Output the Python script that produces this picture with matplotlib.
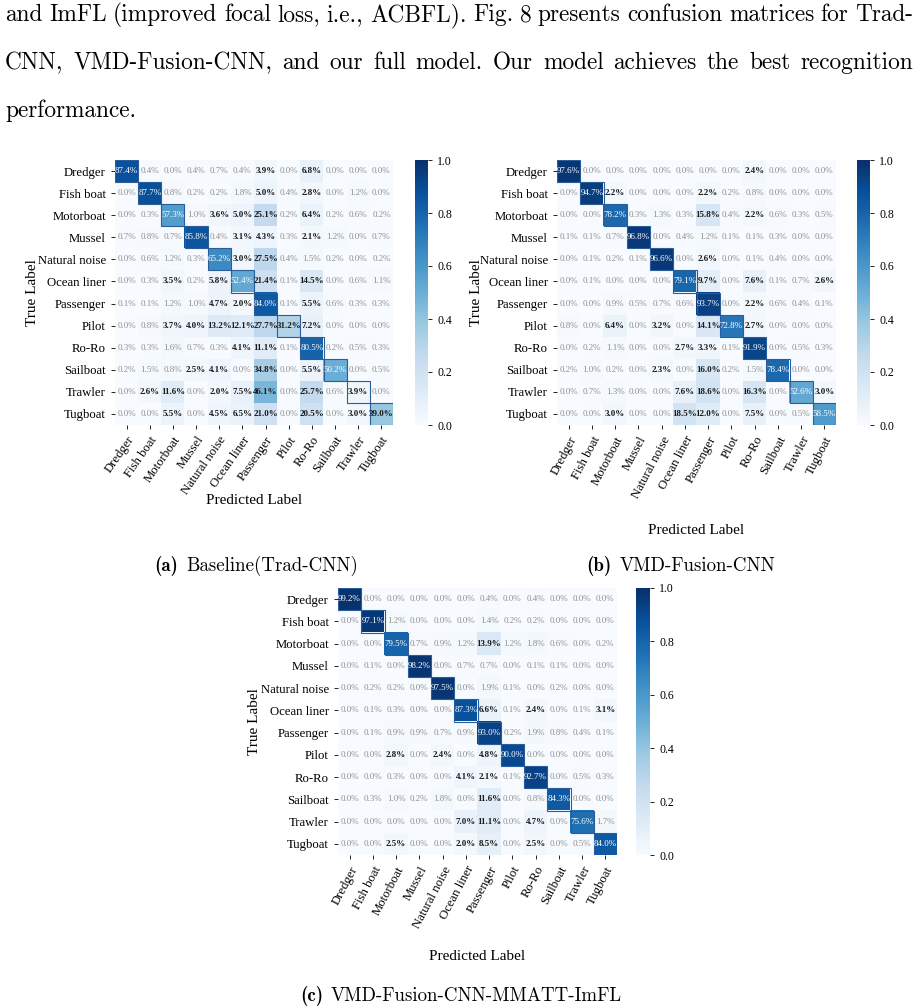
import numpy as np
import matplotlib.pyplot as plt
from matplotlib.patches import Rectangle

plt.rcParams['font.family'] = ['Liberation Serif', 'DejaVu Serif']
plt.rcParams['axes.unicode_minus'] = False

# class names (rows = true, columns = predicted)
classes = ['Dredger', 'Fish boat', 'Motorboat', 'Mussel', 'Natural noise', 'Ocean liner',
           'Passenger', 'Pilot', 'Ro-Ro', 'Sailboat', 'Trawler', 'Tugboat']

# (a) Baseline (Trad-CNN), percent
cm_trad = np.array([
    [87.4, 0.4, 0.0, 0.4, 0.7, 0.4, 3.9, 0.0, 6.8, 0.0, 0.0, 0.0],
    [0.0, 87.7, 0.8, 0.2, 0.2, 1.8, 5.0, 0.4, 2.8, 0.0, 1.2, 0.0],
    [0.0, 0.3, 57.3, 1.0, 3.6, 5.0, 25.1, 0.2, 6.4, 0.2, 0.6, 0.2],
    [0.7, 0.8, 0.7, 85.8, 0.4, 3.1, 4.3, 0.3, 2.1, 1.2, 0.0, 0.7],
    [0.0, 0.6, 1.2, 0.3, 65.2, 3.0, 27.5, 0.4, 1.5, 0.2, 0.0, 0.2],
    [0.0, 0.3, 3.5, 0.2, 5.8, 52.4, 21.4, 0.1, 14.5, 0.0, 0.6, 1.1],
    [0.1, 0.1, 1.2, 1.0, 4.7, 2.0, 84.0, 0.1, 5.5, 0.6, 0.3, 0.3],
    [0.0, 0.8, 3.7, 4.0, 13.2, 12.1, 27.7, 31.2, 7.2, 0.0, 0.0, 0.0],
    [0.3, 0.3, 1.6, 0.7, 0.3, 4.1, 11.1, 0.1, 80.5, 0.2, 0.5, 0.3],
    [0.2, 1.5, 0.8, 2.5, 4.1, 0.0, 34.8, 0.0, 5.5, 50.2, 0.0, 0.5],
    [0.0, 2.6, 11.6, 0.0, 2.0, 7.5, 46.1, 0.0, 25.7, 0.6, 3.9, 0.0],
    [0.0, 0.0, 5.5, 0.0, 4.5, 6.5, 21.0, 0.0, 20.5, 0.0, 3.0, 39.0],
])

# (b) VMD-Fusion-CNN
cm_vmd = np.array([
    [97.6, 0.0, 0.0, 0.0, 0.0, 0.0, 0.0, 0.0, 2.4, 0.0, 0.0, 0.0],
    [0.0, 94.7, 2.2, 0.0, 0.0, 0.0, 2.2, 0.2, 0.8, 0.0, 0.0, 0.0],
    [0.0, 0.0, 78.2, 0.3, 1.3, 0.3, 15.8, 0.4, 2.2, 0.6, 0.3, 0.5],
    [0.1, 0.1, 0.7, 96.8, 0.0, 0.4, 1.2, 0.1, 0.1, 0.3, 0.0, 0.0],
    [0.0, 0.1, 0.2, 0.1, 96.6, 0.0, 2.6, 0.0, 0.1, 0.4, 0.0, 0.0],
    [0.0, 0.1, 0.0, 0.0, 0.0, 79.1, 9.7, 0.0, 7.6, 0.1, 0.7, 2.6],
    [0.0, 0.0, 0.9, 0.5, 0.7, 0.6, 93.7, 0.0, 2.2, 0.6, 0.4, 0.1],
    [0.8, 0.0, 6.4, 0.0, 3.2, 0.0, 14.1, 72.8, 2.7, 0.0, 0.0, 0.0],
    [0.0, 0.2, 1.1, 0.0, 0.0, 2.7, 3.3, 0.1, 91.9, 0.0, 0.5, 0.3],
    [0.2, 1.0, 0.2, 0.0, 2.3, 0.0, 16.0, 0.2, 1.5, 78.4, 0.0, 0.0],
    [0.0, 0.7, 1.3, 0.0, 0.0, 7.6, 18.6, 0.0, 16.3, 0.0, 52.6, 3.0],
    [0.0, 0.0, 3.0, 0.0, 0.0, 18.5, 12.0, 0.0, 7.5, 0.0, 0.5, 58.5],
])

# (c) VMD-Fusion-CNN-MMATT-ImFL
cm_full = np.array([
    [99.2, 0.0, 0.0, 0.0, 0.0, 0.0, 0.4, 0.0, 0.4, 0.0, 0.0, 0.0],
    [0.0, 97.1, 1.2, 0.0, 0.0, 0.0, 1.4, 0.2, 0.2, 0.0, 0.0, 0.0],
    [0.0, 0.0, 79.5, 0.7, 0.9, 1.2, 13.9, 1.2, 1.8, 0.6, 0.0, 0.2],
    [0.0, 0.1, 0.0, 98.2, 0.0, 0.7, 0.7, 0.0, 0.1, 0.1, 0.0, 0.0],
    [0.0, 0.2, 0.2, 0.0, 97.5, 0.0, 1.9, 0.1, 0.0, 0.2, 0.0, 0.0],
    [0.0, 0.1, 0.3, 0.0, 0.0, 87.3, 6.6, 0.1, 2.4, 0.0, 0.1, 3.1],
    [0.0, 0.1, 0.9, 0.9, 0.7, 0.9, 93.0, 0.2, 1.9, 0.8, 0.4, 0.1],
    [0.0, 0.0, 2.8, 0.0, 2.4, 0.0, 4.8, 90.0, 0.0, 0.0, 0.0, 0.0],
    [0.0, 0.0, 0.3, 0.0, 0.0, 4.1, 2.1, 0.1, 92.7, 0.0, 0.5, 0.3],
    [0.0, 0.3, 1.0, 0.2, 1.8, 0.0, 11.6, 0.0, 0.8, 84.3, 0.0, 0.0],
    [0.0, 0.0, 0.0, 0.0, 0.0, 7.0, 11.1, 0.0, 4.7, 0.0, 75.6, 1.7],
    [0.0, 0.0, 2.5, 0.0, 0.0, 2.0, 8.5, 0.0, 2.5, 0.0, 0.5, 84.0],
])

body_lines = [
    'and ImFL (improved focal loss, i.e., ACBFL). Fig. 8 presents confusion matrices for Trad-',
    'CNN, VMD-Fusion-CNN, and our full model. Our model achieves the best recognition',
    'performance.',
]
captions = [('(a)', 'Baseline(Trad-CNN)'), ('(b)', 'VMD-Fusion-CNN'),
            ('(c)', 'VMD-Fusion-CNN-MMATT-ImFL')]

W, H = 919, 1008
fig = plt.figure(figsize=(W / 100, H / 100), dpi=100)
renderer = fig.canvas.get_renderer()


def fx(x):
    return x / W


def fy(y):
    return 1 - y / H


def px_axes(x0, y0, x1, y1):
    return fig.add_axes([fx(x0), fy(y1), (x1 - x0) / W, (y1 - y0) / H])


def lum(c):
    rgb = np.array(c[:3])
    rgb = np.where(rgb <= .03928, rgb / 12.92, ((rgb + .055) / 1.055) ** 2.4)
    return .2126 * rgb[0] + .7152 * rgb[1] + .0722 * rgb[2]


def draw_cm(mat, box, cbox, rot, ylab_x, xlab_y):
    ax = px_axes(*box)
    vals = mat / 100
    im = ax.imshow(vals, cmap='Blues', vmin=0, vmax=1, aspect='auto', interpolation='nearest')
    n = len(classes)
    for i in range(n):
        for j in range(n):
            v = mat[i, j]
            if lum(im.cmap(vals[i, j])) < .408:
                col, wt = 'white', 'normal'
            elif v >= 2:
                col, wt = '#1a1a1a', 'bold'
            else:
                col, wt = '#8f8f8f', 'normal'
            ax.text(j, i, f'{v:.1f}%', ha='center', va='center', fontsize=6.5,
                    color=col, fontweight=wt)
        ax.add_patch(Rectangle((i - 0.5, i - 0.5), 1, 1, fill=False,
                               edgecolor='#2a5d9a', lw=0.8))
    ax.set_xticks(range(n))
    ax.set_xticklabels(classes, rotation=rot, ha='right', rotation_mode='anchor', fontsize=9.2)
    ax.set_yticks(range(n))
    ax.set_yticklabels(classes, fontsize=9.2)
    ax.tick_params(length=3, width=0.6)
    for s in ax.spines.values():
        s.set_visible(False)
    xc = (box[0] + box[2]) / 2
    yc = (box[1] + box[3]) / 2
    fig.text(fx(xc), fy(xlab_y), 'Predicted Label', ha='center', va='center', fontsize=11)
    fig.text(fx(ylab_x), fy(yc), 'True Label', ha='center', va='center', fontsize=11,
             rotation=90)
    cax = px_axes(*cbox)
    cb = fig.colorbar(im, cax=cax, ticks=np.linspace(0, 1, 6))
    cb.outline.set_visible(False)
    cb.ax.set_yticklabels([f'{t:.1f}' for t in np.linspace(0, 1, 6)], fontsize=8.5)
    cb.ax.tick_params(length=3, width=0.6)


draw_cm(cm_trad, (115, 160, 393, 425), (415, 160, 428, 425), 55, 33, 500)
draw_cm(cm_vmd, (557, 160, 836, 425), (857, 160, 870, 425), 62, 476, 530)
draw_cm(cm_full, (338, 588, 617, 855), (636, 588, 650, 855), 62, 254, 957)


# word widths, used to justify the body text like the page
def measure(s, size, fam):
    t = fig.text(0, 0, s, fontsize=size, family=fam)
    w = t.get_window_extent(renderer).width
    t.remove()
    return w


def place_words(text, y, x0, x1, justify, size, fam):
    words = text.split(' ')
    widths = [measure(w, size, fam) for w in words]
    sp = measure('a a', size, fam) - 2 * measure('a', size, fam)
    gap = (x1 - x0 - sum(widths)) / (len(words) - 1) if justify and len(words) > 1 else sp
    x = x0
    for w, wd in zip(words, widths):
        fig.text(fx(x), fy(y), w, fontsize=size, family=fam, va='baseline')
        x += wd + gap


body_y = [21, 69, 117]
for k, line in enumerate(body_lines):
    place_words(line, body_y[k], 5, 913, k < 2, 16.8, 'cmr10')


def caption(lbl, txt, xc, y, size=13.6):
    wa = measure(lbl, size, 'cmb10')
    wb = measure(txt, size, 'cmr10')
    gap = 8
    x0 = xc - (wa + gap + wb) / 2
    fig.text(fx(x0), fy(y), lbl, fontsize=size, family='cmb10', va='baseline')
    fig.text(fx(x0 + wa + gap), fy(y), txt, fontsize=size, family='cmr10', va='baseline')


caption(*captions[0], 256, 571)
caption(*captions[1], 681, 571)
caption(*captions[2], 461, 1001)

fig.savefig('out.png', dpi=100)
